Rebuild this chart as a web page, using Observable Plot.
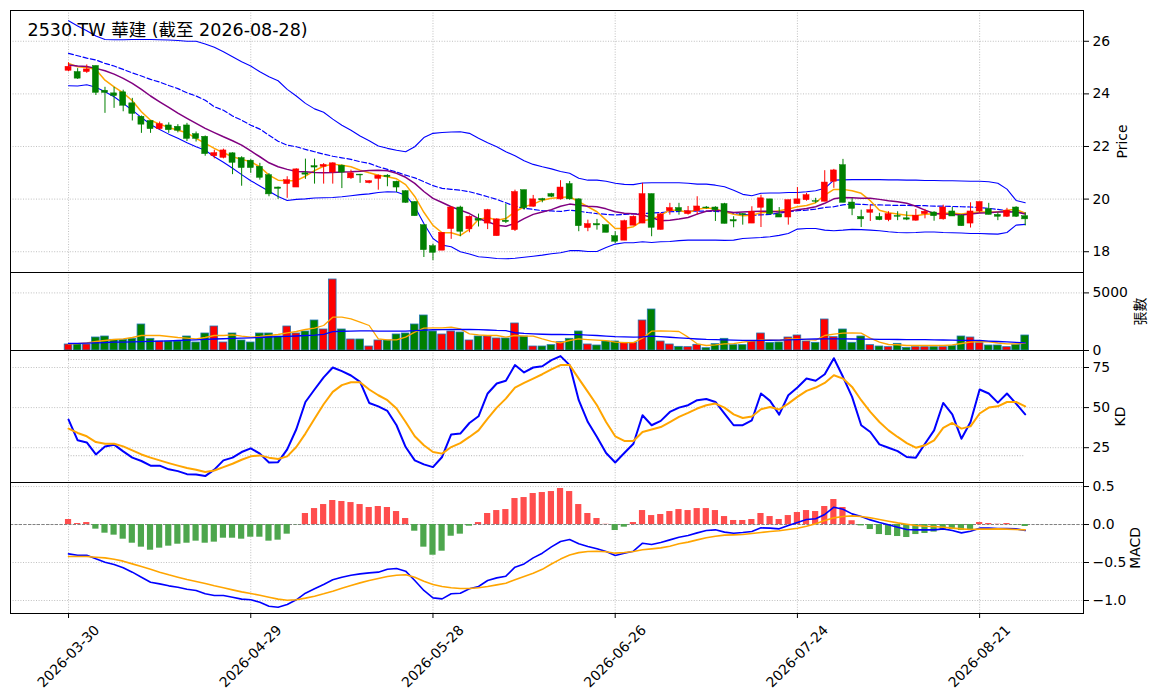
<!DOCTYPE html>
<html><head><meta charset="utf-8">
<script src="https://cdn.jsdelivr.net/npm/d3@7"></script>
<script src="https://cdn.jsdelivr.net/npm/@observablehq/plot@0.6"></script>
<style>
body{margin:0;background:#fff;}
#wrap{position:relative;width:1155px;height:698px;}
#wrap svg{position:absolute;left:0;}
</style></head><body><div id="wrap"></div>
<script>
const TICK_IDX = [0,20,40,60,80,100];
const TICK_LABELS = ["2026-03-30","2026-04-29","2026-05-28","2026-06-26","2026-07-24","2026-08-21"];
const TITLE = "2530.TW 華建 (截至 2026-08-28)";

const OPEN = [24.88,24.83,24.83,25.06,24.12,24.02,24.06,23.64,23.13,22.97,
22.66,22.80,22.75,22.80,22.47,22.37,21.63,21.57,21.74,21.56,
21.46,21.23,20.91,20.44,20.57,20.44,20.98,21.25,21.23,21.01,
21.27,20.79,20.93,20.61,20.77,20.89,20.66,20.30,19.89,19.01,
18.21,18.04,18.86,19.68,18.85,19.25,19.07,18.59,19.18,18.82,
20.34,19.71,20.00,20.19,19.99,20.57,19.99,18.90,19.05,19.01,
18.59,18.42,18.99,19.07,20.19,18.83,19.54,19.66,19.43,19.54,
19.68,19.68,19.81,19.20,19.43,19.07,19.67,19.99,19.42,19.30,
19.81,19.96,19.92,19.90,20.66,21.29,19.87,19.32,19.48,19.32,
19.20,19.36,19.27,19.18,19.43,19.49,19.23,19.53,19.37,19.07,
19.53,19.62,19.40,19.33,19.68,19.35];
const HIGH = [25.18,24.96,25.10,25.06,24.25,24.25,24.14,23.83,23.16,22.97,
22.93,22.90,22.83,22.88,22.55,22.40,21.86,21.90,21.76,21.61,
21.50,21.36,20.97,20.46,20.85,21.15,21.52,21.52,21.35,21.38,
21.30,21.10,20.94,20.70,20.92,20.93,20.68,20.32,19.90,19.01,
18.29,18.72,19.71,19.73,19.36,19.43,19.61,19.25,19.81,20.34,
20.34,20.14,20.03,20.22,20.70,20.67,20.01,19.20,19.23,19.01,
18.76,19.20,19.36,20.60,20.19,19.46,19.84,19.84,19.72,20.09,
19.72,19.71,19.84,19.33,19.45,19.71,20.15,19.99,19.68,19.96,
20.44,20.22,20.03,21.08,21.13,21.51,20.02,19.58,19.77,19.46,
19.52,19.52,19.52,19.61,19.61,19.52,19.77,19.68,19.40,19.86,
19.89,19.84,19.48,19.65,19.71,19.48];
const LOW = [24.84,24.55,24.78,23.94,23.26,23.45,23.32,22.97,22.50,22.50,
22.62,22.50,22.52,22.19,22.17,21.63,21.53,21.53,20.93,20.49,
20.98,20.72,20.09,19.99,20.03,20.44,20.75,20.57,20.57,20.57,
20.40,20.75,20.60,20.58,20.34,20.47,20.25,19.84,19.35,17.78,
17.66,18.04,18.47,18.57,18.72,18.94,18.84,18.59,19.07,18.77,
19.58,19.69,19.86,20.06,19.96,19.96,18.76,18.76,18.82,18.72,
18.31,18.42,18.99,19.07,18.57,18.82,19.39,19.39,19.39,19.39,
19.62,19.15,19.06,18.91,19.01,19.07,18.92,19.39,19.30,19.01,
19.80,19.92,19.84,19.90,20.41,19.86,19.37,18.92,19.15,19.18,
19.14,19.18,19.18,19.16,19.25,19.16,19.20,19.34,18.97,18.90,
19.46,19.40,19.18,19.30,19.30,18.98];
const CLOSE = [25.03,24.58,24.93,24.04,24.04,23.92,23.55,23.24,22.83,22.66,
22.85,22.62,22.60,22.29,22.29,21.71,21.75,21.85,21.38,21.18,
21.18,20.81,20.18,20.39,20.72,21.13,20.93,21.20,21.30,21.36,
21.01,20.98,20.90,20.68,20.89,20.84,20.44,19.86,19.35,18.06,
17.96,18.72,19.68,18.76,19.33,19.18,19.58,19.23,19.13,20.27,
19.65,19.99,19.95,20.09,20.44,19.99,18.97,19.05,19.00,18.72,
18.38,19.16,19.33,20.19,18.91,19.42,19.66,19.54,19.54,19.72,
19.65,19.58,19.06,19.15,19.40,19.52,20.03,19.42,19.30,19.96,
19.99,20.15,19.90,20.63,21.09,19.86,19.63,19.23,19.58,19.20,
19.43,19.33,19.22,19.37,19.52,19.35,19.68,19.34,18.97,19.53,
19.89,19.40,19.33,19.56,19.33,19.23];
const MA5 = [25.16,25.03,25.00,24.93,24.52,24.27,24.04,23.74,23.32,23.00,
22.85,22.72,22.62,22.52,22.31,22.12,21.93,21.76,21.61,21.51,
21.42,21.23,20.91,20.72,20.70,20.70,20.87,21.08,21.25,21.33,
21.29,21.23,21.10,21.00,20.91,20.85,20.77,20.55,20.10,19.50,
19.00,18.72,18.72,18.62,18.85,19.23,19.30,19.20,19.26,19.52,
19.71,19.81,19.96,20.03,20.06,20.09,19.90,19.71,19.52,19.20,
18.88,18.88,18.95,19.18,19.23,19.39,19.58,19.58,19.48,19.61,
19.66,19.63,19.52,19.42,19.37,19.39,19.48,19.51,19.56,19.62,
19.71,19.76,19.86,20.15,20.37,20.37,20.32,20.22,19.94,19.58,
19.48,19.43,19.39,19.37,19.42,19.44,19.46,19.47,19.43,19.48,
19.51,19.51,19.51,19.58,19.61,19.46];
const MA10 = [25.10,25.06,25.04,24.97,24.88,24.75,24.59,24.40,24.17,23.92,
23.70,23.49,23.27,23.07,22.88,22.69,22.53,22.37,22.22,22.05,
21.83,21.61,21.38,21.23,21.13,21.05,21.04,21.01,21.00,21.01,
21.03,21.04,21.06,21.09,21.10,21.08,20.98,20.83,20.60,20.29,
20.03,19.87,19.71,19.58,19.45,19.26,19.14,19.01,18.97,19.07,
19.26,19.42,19.51,19.60,19.73,19.81,19.77,19.73,19.71,19.63,
19.52,19.46,19.44,19.40,19.30,19.18,19.20,19.24,19.30,19.43,
19.54,19.58,19.54,19.49,19.51,19.53,19.54,19.54,19.51,19.53,
19.60,19.64,19.71,19.84,20.01,20.06,20.05,20.03,20.03,19.99,
19.94,19.90,19.84,19.73,19.58,19.45,19.43,19.42,19.40,19.43,
19.47,19.48,19.51,19.52,19.51,19.43];
const MA20 = [25.54,25.45,25.36,25.29,25.16,25.06,24.93,24.80,24.68,24.55,
24.45,24.32,24.20,24.04,23.92,23.76,23.51,23.38,23.16,23.00,
22.81,22.66,22.43,22.20,22.05,21.99,21.89,21.80,21.71,21.63,
21.57,21.51,21.42,21.36,21.23,21.13,21.03,20.91,20.81,20.66,
20.51,20.41,20.37,20.34,20.28,20.19,20.09,19.99,19.86,19.73,
19.65,19.61,19.56,19.55,19.53,19.58,19.54,19.49,19.45,19.42,
19.40,19.42,19.44,19.45,19.47,19.49,19.52,19.53,19.54,19.54,
19.54,19.53,19.51,19.45,19.42,19.39,19.40,19.42,19.47,19.52,
19.56,19.58,19.62,19.68,19.71,19.78,19.81,19.80,19.78,19.78,
19.77,19.76,19.76,19.75,19.75,19.73,19.73,19.72,19.71,19.70,
19.68,19.65,19.61,19.56,19.52,19.48];
const BB_UP = [26.78,26.58,26.40,26.20,26.07,26.06,26.06,26.07,26.07,26.07,
26.06,26.05,26.03,26.00,26.00,25.90,25.77,25.60,25.41,25.22,
25.06,24.84,24.65,24.50,24.17,23.92,23.64,23.43,23.30,23.04,
22.81,22.62,22.40,22.22,22.02,21.93,21.86,21.80,21.99,22.34,
22.50,22.53,22.55,22.56,22.50,22.31,22.14,21.99,21.80,21.65,
21.46,21.32,21.23,21.15,21.05,20.98,20.79,20.72,20.72,20.68,
20.60,20.56,20.55,20.61,20.62,20.62,20.62,20.62,20.60,20.57,
20.57,20.53,20.47,20.34,20.18,20.13,20.22,20.23,20.23,20.25,
20.25,20.28,20.32,20.41,20.72,20.73,20.74,20.74,20.74,20.74,
20.73,20.73,20.72,20.72,20.71,20.71,20.70,20.70,20.69,20.68,
20.68,20.66,20.60,20.38,19.95,19.86];
const BB_LOW = [24.31,24.30,24.35,24.25,24.08,23.89,23.64,23.38,23.10,22.84,
22.65,22.47,22.31,22.14,21.99,21.86,21.61,21.40,21.17,20.93,
20.70,20.50,20.30,20.10,19.95,19.99,20.01,20.04,20.05,20.06,
20.09,20.13,20.17,20.20,20.25,20.28,20.27,20.15,19.71,19.07,
18.50,18.25,18.19,18.00,17.91,17.81,17.78,17.74,17.73,17.75,
17.79,17.83,17.87,17.92,17.96,18.04,18.04,18.01,18.01,18.16,
18.29,18.34,18.34,18.38,18.35,18.38,18.39,18.42,18.44,18.44,
18.44,18.44,18.43,18.44,18.50,18.52,18.54,18.57,18.62,18.69,
18.86,18.88,18.88,18.82,18.80,18.82,18.85,18.84,18.82,18.80,
18.76,18.73,18.72,18.73,18.75,18.75,18.73,18.72,18.71,18.69,
18.69,18.68,18.67,18.73,19.01,19.04];
const VOLUME = [521,521,521,1128,1215,926,926,1013,2257,1013,
781,781,781,1215,694,1476,2083,694,1476,868,
694,1476,1476,1215,2083,1476,1649,2604,1823,6163,
1823,955,955,347,868,868,1389,1476,2257,3038,
1649,1389,1649,1563,868,1215,1215,1042,1042,2344,
1215,347,347,463,723,1013,1649,521,434,781,
781,666,666,2604,3559,781,521,318,289,492,
200,550,1013,463,463,781,1476,666,694,1128,
1302,781,666,2691,1157,1823,666,1215,463,347,
289,579,231,289,289,289,289,376,1215,1128,
637,434,434,289,492,1302];
const VOL_MA5 = [550,600,666,780,868,955,1013,1128,1302,1302,
1302,1215,1128,1070,1013,1128,1302,1302,1360,1244,
1157,1215,1302,1389,1534,1649,1823,1939,2170,2894,
2894,2749,2459,2170,1013,926,926,1157,1591,1939,
1970,1970,2025,1881,1447,1360,1302,1302,1157,1302,
1250,1250,1013,800,666,868,1013,950,900,850,
723,680,680,1070,1678,1700,1678,1649,1157,579,
434,492,579,600,723,810,926,900,868,1013,
1013,950,900,1302,1418,1505,1534,1505,1070,723,
521,500,434,434,434,434,434,492,608,723,
781,740,650,579,579,637];
const VOL_MA20 = [608,620,640,660,690,720,730,745,770,790,
810,840,870,900,926,960,1000,1020,1050,1070,
1100,1130,1170,1200,1230,1260,1300,1340,1400,1640,
1670,1690,1700,1700,1690,1680,1680,1690,1720,1770,
1800,1810,1823,1823,1823,1810,1780,1740,1720,1540,
1480,1440,1410,1390,1390,1380,1370,1340,1300,1250,
1200,1180,1160,1180,1250,1200,1150,1100,1050,1000,
960,950,930,900,880,870,880,890,900,920,
950,980,1000,1010,1013,1013,1000,990,980,970,
960,955,950,950,940,930,910,900,880,880,
870,820,780,740,700,660];
const K = [42.5,29.6,28.3,20.8,25.8,26.9,22.7,18.8,16.7,13.8,
13.8,11.5,10.4,8.5,8.3,7.3,11.3,17.1,18.8,22.3,
24.6,21.3,15.8,16.0,24.0,36.5,53.5,61.3,68.8,75.0,
72.7,70.0,66.0,52.9,50.8,47.9,39.0,25.4,17.1,14.6,
12.9,19.2,33.3,33.8,40.4,44.6,58.8,65.0,66.7,76.5,
71.9,75.0,75.8,79.6,82.1,76.5,54.6,41.0,31.7,21.7,
15.8,21.7,27.5,45.2,39.0,41.7,47.3,50.0,51.5,54.6,
55.4,53.5,46.3,39.0,39.0,42.1,58.8,54.2,45.6,57.7,
62.5,68.1,66.7,70.8,80.8,69.2,56.7,39.0,34.8,27.1,
25.0,22.9,19.2,18.8,27.5,35.8,52.9,45.8,30.6,41.0,
61.3,58.8,53.1,58.8,52.5,45.8];
const D = [36.9,34.2,32.1,28.5,27.5,27.5,25.8,23.3,20.8,18.8,
17.1,15.4,13.8,12.3,11.3,9.8,10.8,12.9,15.0,17.5,
19.6,20.2,18.8,17.9,19.6,25.4,33.8,43.1,52.1,59.8,
64.0,65.8,65.8,61.3,57.7,54.6,49.4,41.0,32.1,26.5,
22.3,21.3,25.4,27.9,31.7,35.8,43.1,50.0,55.6,62.5,
65.4,68.1,70.8,73.8,76.5,76.5,68.1,59.8,51.5,41.0,
32.1,29.2,29.2,34.8,36.3,37.9,41.0,44.2,46.7,49.4,
51.5,52.5,50.0,45.8,43.5,44.5,49.0,50.4,48.8,52.5,
56.7,60.4,62.5,65.4,70.2,68.1,62.9,54.6,47.3,41.0,
35.8,31.7,27.9,25.0,26.5,29.6,37.3,40.4,36.9,38.3,
46.3,50.0,50.8,53.5,53.5,50.8];
const DIF = [-0.386,-0.404,-0.404,-0.452,-0.496,-0.526,-0.570,-0.627,-0.693,-0.759,
-0.781,-0.807,-0.825,-0.851,-0.868,-0.912,-0.934,-0.934,-0.956,-0.982,
-0.991,-1.022,-1.075,-1.088,-1.053,-0.991,-0.904,-0.846,-0.789,-0.728,
-0.693,-0.667,-0.649,-0.636,-0.627,-0.588,-0.579,-0.614,-0.737,-0.868,
-0.965,-0.978,-0.912,-0.904,-0.846,-0.816,-0.737,-0.702,-0.680,-0.561,
-0.518,-0.439,-0.377,-0.295,-0.224,-0.197,-0.254,-0.289,-0.320,-0.355,
-0.408,-0.377,-0.351,-0.246,-0.263,-0.237,-0.202,-0.167,-0.145,-0.110,
-0.079,-0.070,-0.100,-0.114,-0.105,-0.092,-0.044,-0.048,-0.057,-0.013,
0.026,0.066,0.075,0.132,0.228,0.202,0.140,0.105,0.061,0.026,
-0.004,-0.035,-0.066,-0.070,-0.070,-0.070,-0.057,-0.079,-0.110,-0.088,
-0.048,-0.048,-0.053,-0.053,-0.057,-0.079];
const DEA = [-0.421,-0.421,-0.421,-0.430,-0.439,-0.456,-0.482,-0.518,-0.553,-0.588,
-0.627,-0.662,-0.693,-0.724,-0.750,-0.776,-0.807,-0.833,-0.860,-0.886,
-0.908,-0.930,-0.956,-0.982,-0.996,-0.991,-0.969,-0.943,-0.912,-0.877,
-0.838,-0.803,-0.768,-0.737,-0.711,-0.684,-0.667,-0.662,-0.693,-0.746,
-0.789,-0.816,-0.833,-0.842,-0.842,-0.833,-0.816,-0.794,-0.772,-0.728,
-0.684,-0.640,-0.590,-0.520,-0.455,-0.400,-0.370,-0.355,-0.351,-0.358,
-0.377,-0.368,-0.355,-0.333,-0.320,-0.307,-0.285,-0.254,-0.232,-0.202,
-0.175,-0.154,-0.140,-0.136,-0.132,-0.118,-0.105,-0.092,-0.083,-0.066,
-0.048,-0.022,0.009,0.053,0.088,0.105,0.114,0.105,0.088,0.066,
0.044,0.022,0.004,-0.013,-0.022,-0.026,-0.035,-0.048,-0.057,-0.066,
-0.061,-0.061,-0.057,-0.061,-0.066,-0.070];
const HIST = [0.066,0.013,0.026,-0.061,-0.114,-0.140,-0.193,-0.246,-0.298,-0.338,
-0.311,-0.285,-0.259,-0.246,-0.219,-0.246,-0.232,-0.180,-0.180,-0.193,
-0.167,-0.167,-0.219,-0.206,-0.127,-0.003,0.145,0.210,0.263,0.316,
0.303,0.289,0.263,0.224,0.237,0.224,0.171,0.079,-0.088,-0.298,
-0.404,-0.351,-0.154,-0.127,-0.022,0.026,0.145,0.184,0.197,0.342,
0.355,0.408,0.421,0.434,0.474,0.434,0.263,0.145,0.079,0.003,
-0.079,-0.035,0.026,0.184,0.118,0.132,0.171,0.197,0.184,0.210,
0.210,0.184,0.105,0.053,0.053,0.066,0.145,0.105,0.066,0.118,
0.158,0.184,0.171,0.237,0.329,0.224,0.050,-0.018,-0.066,-0.132,
-0.145,-0.158,-0.171,-0.132,-0.118,-0.100,-0.079,-0.066,-0.079,-0.066,
0.026,0.013,0.004,0.013,-0.005,-0.026];

const rows = OPEN.map((o, i) => ({
  i, o, h: HIGH[i], l: LOW[i], c: CLOSE[i], v: VOLUME[i],
  ma5: MA5[i], ma10: MA10[i], ma20: MA20[i], bu: BB_UP[i], bl: BB_LOW[i],
  vm5: VOL_MA5[i], vm20: VOL_MA20[i], k: K[i], d: D[i],
  dif: DIF[i], dea: DEA[i], hist: HIST[i]
}));
const col = r => r.c >= r.o ? "red" : "green";

const W = 1155, ML = 10, MR = 72;
const FONT = '"DejaVu Sans","Noto Sans CJK TC",sans-serif';
const FS = 13.9;
const X = {type: "linear", domain: [-6.37, 111.4], axis: null};
const STYLE = {fontFamily: FONT, fontSize: FS + "px", color: "black", background: "transparent", overflow: "visible"};
const GRID = {stroke: "#b0b0b0", strokeOpacity: 1, strokeWidth: 0.8, strokeDasharray: "1,1.6"};
const gx = () => Plot.gridX({ticks: TICK_IDX, ...GRID});
const yAxis = (ticks, fmt) => Plot.axisY({anchor: "right", ticks, tickSize: 5, tickPadding: 4, label: null, fontSize: FS, tickFormat: fmt});
const ylab = (t, dx) => Plot.text([t], {text: d => d, frameAnchor: "right", dx, rotate: -90, textAnchor: "middle", lineAnchor: "middle", fontSize: FS, fill: "black"});
const frame = () => Plot.frame({stroke: "black", strokeWidth: 1});
const wrap = document.getElementById("wrap");
function place(svg, top) { svg.style.top = top + "px"; wrap.appendChild(svg); }

// price panel
place(Plot.plot({
  width: W, height: 272, marginLeft: ML, marginRight: MR, marginTop: 10, marginBottom: 0,
  style: STYLE, x: X, y: {domain: [17.21, 27.17]},
  marks: [
    gx(), Plot.gridY({ticks: [18, 20, 22, 24, 26], ...GRID}),
    Plot.line(rows, {x: "i", y: "bu", stroke: "blue", strokeWidth: 1.1}),
    Plot.line(rows, {x: "i", y: "bl", stroke: "blue", strokeWidth: 1.1}),
    Plot.line(rows, {x: "i", y: "ma20", stroke: "blue", strokeWidth: 1.2, strokeDasharray: "5,2.5"}),
    Plot.line(rows, {x: "i", y: "ma5", stroke: "orange", strokeWidth: 1.5}),
    Plot.line(rows, {x: "i", y: "ma10", stroke: "purple", strokeWidth: 1.5}),
    Plot.ruleX(rows, {x: "i", y1: "l", y2: "h", stroke: col, strokeWidth: 1}),
    Plot.rect(rows, {x1: r => r.i - 0.33, x2: r => r.i + 0.33, y1: r => Math.min(r.o, r.c), y2: r => Math.max(r.o, r.c), fill: col, stroke: col, strokeWidth: 0.5}),
    yAxis([18, 20, 22, 24, 26], d3.format("d")),
    frame(),
    ylab("Price", 39),
    Plot.text([TITLE], {text: d => d, frameAnchor: "top-left", dx: 17, dy: 13.5, textAnchor: "start", lineAnchor: "top", fontSize: 17.5, fill: "black"})
  ]
}), 0);

// volume panel
place(Plot.plot({
  width: W, height: 78, marginLeft: ML, marginRight: MR, marginTop: 0, marginBottom: 0,
  style: STYLE, x: X, y: {domain: [0, 6770]},
  marks: [
    gx(), Plot.gridY({ticks: [5000], ...GRID}),
    Plot.rect(rows, {x1: r => r.i - 0.42, x2: r => r.i + 0.42, y1: 0, y2: "v", fill: col, stroke: "#1f77b4", strokeWidth: 0.8}),
    Plot.line(rows, {x: "i", y: "vm5", stroke: "orange", strokeWidth: 1.3}),
    Plot.line(rows, {x: "i", y: "vm20", stroke: "blue", strokeWidth: 1.3}),
    yAxis([0, 5000], d3.format("d")),
    frame(),
    ylab("張數", 57)
  ]
}), 272);

// KD panel
place(Plot.plot({
  width: W, height: 132, marginLeft: ML, marginRight: MR, marginTop: 0, marginBottom: 0,
  style: STYLE, x: X, y: {domain: [3.3, 85.6]},
  marks: [
    gx(), Plot.gridY({ticks: [25, 50, 75], ...GRID}),
    Plot.ruleY([20, 80], {x1: 0, x2: 105, stroke: "#a0a0a0", strokeWidth: 0.8, strokeDasharray: "1,1.6"}),
    Plot.line(rows, {x: "i", y: "k", stroke: "blue", strokeWidth: 2}),
    Plot.line(rows, {x: "i", y: "d", stroke: "orange", strokeWidth: 2}),
    yAxis([25, 50, 75], d3.format("d")),
    frame(),
    ylab("KD", 37)
  ]
}), 350);

// MACD panel
place(Plot.plot({
  width: W, height: 216, marginLeft: ML, marginRight: MR, marginTop: 0, marginBottom: 85,
  style: STYLE, x: X, y: {domain: [-1.171, 0.553]},
  marks: [
    gx(), Plot.gridY({ticks: [0.5, 0, -0.5, -1], ...GRID}),
    Plot.ruleY([0], {stroke: "#808080", strokeWidth: 1, strokeDasharray: "3,1.5"}),
    Plot.rect(rows, {x1: r => r.i - 0.34, x2: r => r.i + 0.34, y1: 0, y2: "hist", fill: r => r.hist >= 0 ? "#ff4d4d" : "#4da64d"}),
    Plot.line(rows, {x: "i", y: "dif", stroke: "blue", strokeWidth: 1.6}),
    Plot.line(rows, {x: "i", y: "dea", stroke: "orange", strokeWidth: 1.6}),
    yAxis([0.5, 0, -0.5, -1], d3.format(".1f")),
    Plot.axisX({anchor: "bottom", ticks: TICK_IDX, tickSize: 5, tickFormat: () => "", label: null}),
    Plot.text(TICK_IDX, {x: d => d, text: (d, i) => TICK_LABELS[i], frameAnchor: "bottom", dy: 43, rotate: -45, textAnchor: "middle", lineAnchor: "middle", fontSize: FS, fill: "black"}),
    frame(),
    ylab("MACD", 52)
  ]
}), 482);
</script></body></html>
